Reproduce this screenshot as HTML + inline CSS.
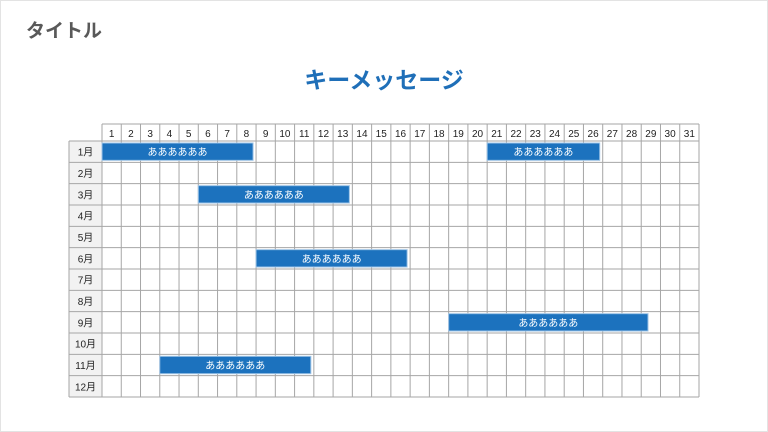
<!DOCTYPE html>
<html><head><meta charset="utf-8"><style>
body{margin:0;width:768px;height:432px;background:#fff;overflow:hidden;font-family:"Liberation Sans","Noto Sans CJK JP",sans-serif;}
.page{position:absolute;left:0;top:0;width:766px;height:430px;border:1px solid #e3e3e3;}
</style></head><body><div class="page"></div>
<svg width="768" height="432" style="position:absolute;left:0;top:0" font-family="Liberation Sans, Noto Sans CJK JP, sans-serif">
<text x="26" y="37" font-size="19" font-weight="bold" fill="#595959">タイトル</text>
<text x="384" y="88" font-size="23" font-weight="bold" fill="#1f6fb8" text-anchor="middle">キーメッセージ</text>
<g id="grid"></g>
</svg>
<script>
const g=document.getElementById('grid');const ns='http://www.w3.org/2000/svg';
const X0=102,X1=699,Y0=124,HY=141,Y1=397,LX=69;const cw=(X1-X0)/31,rh=(Y1-HY)/12;
function el(t,a,txt){const e=document.createElementNS(ns,t);for(const k in a)e.setAttribute(k,a[k]);if(txt)e.textContent=txt;g.appendChild(e);return e;}
el('rect',{x:LX,y:HY,width:X0-LX,height:Y1-HY,fill:'#f2f2f2'});
for(let i=0;i<31;i++){el('text',{x:X0+cw*i+cw/2,y:137,'font-size':10,'text-anchor':'middle',fill:'#222'},String(i+1));}
for(let r=0;r<12;r++){el('text',{x:(LX+X0)/2,y:HY+rh*r+rh/2+4,'font-size':10,'text-anchor':'middle',fill:'#222'},(r+1)+'月');}
for(let i=0;i<=31;i++){const x=X0+cw*i;el('line',{x1:x,y1:Y0,x2:x,y2:Y1,stroke:'#a6a6a6','stroke-width':1});}
el('line',{x1:X0,y1:Y0,x2:X1,y2:Y0,stroke:'#a6a6a6'});
for(let r=0;r<=12;r++){const y=HY+rh*r;el('line',{x1:LX,y1:y,x2:X1,y2:y,stroke:'#a6a6a6'});}
el('line',{x1:LX,y1:HY,x2:LX,y2:Y1,stroke:'#a6a6a6'});
const bars=[[0,1,8],[0,21,26],[2,6,13],[5,9,16],[8,19,0,648],[10,4,11]];
for(const [r,a,b,xe] of bars){const x=X0+cw*(a-1),w=xe?xe-x:cw*(b-a+1)-3,y=HY+rh*r+2;
el('rect',{x:x,y:y,width:w,height:rh-4,fill:'#1c72be',stroke:'#9dc3e6','stroke-width':1});
el('text',{x:x+w/2,y:y+(rh-4)/2+4,'font-size':10,'text-anchor':'middle',fill:'#fff'},'ああああああ');}
</script>
</body></html>
